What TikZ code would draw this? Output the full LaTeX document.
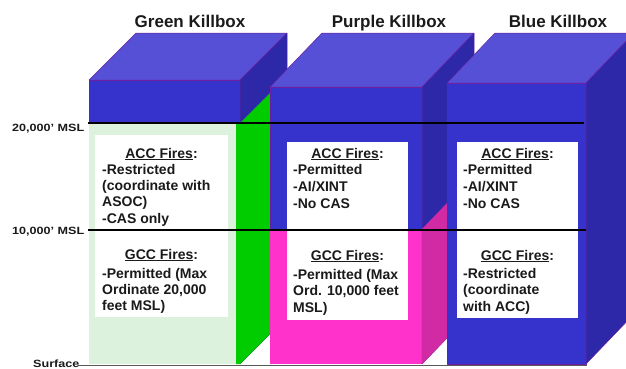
\documentclass[tikz,border=0pt]{standalone}
\usepackage{fontspec}
\setmainfont{Liberation Sans}
\usepackage{graphicx}
\definecolor{topc}{HTML}{5650D6}
\definecolor{frontc}{HTML}{3633CC}
\definecolor{sidec}{HTML}{2C28A8}
\definecolor{edgec}{HTML}{6A20A0}
\definecolor{grn}{HTML}{00CC00}
\definecolor{lgrn}{HTML}{DDF2DD}
\definecolor{mag}{HTML}{FF33CC}
\definecolor{dmag}{HTML}{D22AA5}
\definecolor{txt}{HTML}{1A1A1A}
\tikzset{
  face/.style={draw=edgec, line width=0.5pt, line join=round},
  whitebox/.style={fill=white, draw=none},
  head/.style={inner sep=0pt, anchor=base, font=\fontsize{14}{16.5}\selectfont\bfseries, text=txt},
  body/.style={inner sep=0pt, anchor=base west, font=\fontsize{14}{16.5}\selectfont\bfseries, text=txt},
  titletext/.style={inner sep=0pt, anchor=base, font=\fontsize{17}{20}\selectfont\bfseries, text=txt},
  alttext/.style={inner sep=0pt, anchor=base west, font=\fontsize{10.5}{12}\selectfont\bfseries, text=txt},
  altline/.style={line width=2.6pt, black},
  surfline/.style={line width=1pt, black!65},
}
\newcommand{\Head}[1]{\underline{#1}:}
\newcommand{\apos}{\char"0027\relax}
\begin{document}
\begin{tikzpicture}[x=1pt,y=-1pt]
\useasboundingbox (0,0) rectangle (626,368);
% ---------------- Green box
\fill[face, fill=topc] (89,80) -- (136,33) -- (287,33) -- (240,80) -- cycle;
\fill[face, fill=frontc] (89,80) rectangle (240,123);
\fill[face, fill=sidec] (240,80) -- (287,33) -- (287,317) -- (240,364) -- cycle;
\fill[fill=grn] (236,123) -- (240,123) -- (287,76) -- (287,317) -- (240,364) -- (236,364) -- cycle;
\fill[fill=lgrn] (89,123) rectangle (236,364);
\fill[whitebox] (95,135) rectangle (228,317);
% ---------------- Purple box
\fill[face, fill=topc] (270,87) -- (322,33) -- (474,33) -- (422,87) -- cycle;
\fill[face, fill=frontc] (270,87) rectangle (422,229);
\fill[fill=mag] (270,229) rectangle (422,364);
\fill[face, fill=sidec] (422,87) -- (474,33) -- (474,310) -- (422,364) -- cycle;
\fill[fill=dmag] (422,229) -- (474,175) -- (474,310) -- (422,364) -- cycle;
\fill[whitebox] (287,142) rectangle (408,320);
% ---------------- Blue box
\fill[face, fill=topc] (447,83) -- (495,33) -- (634,33) -- (586,83) -- cycle;
\fill[face, fill=frontc] (447,83) rectangle (586,364);
\fill[face, fill=sidec] (586,83) -- (634,33) -- (634,314) -- (586,364) -- cycle;
\fill[whitebox] (457,142) rectangle (578,318);
% ---------------- altitude lines
\coordinate (a20l) at (88,123);  \coordinate (a20r) at (584,123);
\coordinate (a10l) at (88,230);  \coordinate (a10r) at (586,230);
\coordinate (sfl) at (78,365);   \coordinate (sfr) at (587,365);
\draw[altline] (a20l) -- (a20r);
\draw[altline] (a10l) -- (a10r);
\draw[surfline] (sfl) -- (sfr);
% ---------------- titles
\node[titletext] (tg) at (190,27) {Green Killbox};
\node[titletext] (tp) at (389,27) {Purple Killbox};
\node[titletext] (tb) at (558,27) {Blue Killbox};
% ---------------- altitude labels
\node[alttext] (l20) at (12,131) {\scalebox{1.2}[1]{20,000\apos\ MSL}};
\node[alttext] (l10) at (12,234) {\scalebox{1.2}[1]{10,000\apos\ MSL}};
\node[alttext] (lsf) at (33,367) {\scalebox{1.2}[1]{Surface}};
% ---------------- green texts
\node[head] (gah) at (161.5,158) {\Head{ACC Fires}};
\node[body] (gab) at (102,174) {\vtop{\baselineskip=16.4pt
  \hbox{-Restricted}\hbox{(coordinate with}\hbox{ASOC)}\hbox{-CAS only}}};
\node[head] (ggh) at (161.5,259) {\Head{GCC Fires}};
\node[body] (ggb) at (102,278) {\vtop{\baselineskip=16.2pt
  \hbox{-Permitted (Max}\hbox{Ordinate 20,000}\hbox{feet MSL)}}};
% ---------------- purple texts
\node[head] (pah) at (347.5,158) {\Head{ACC Fires}};
\node[body] (pab) at (293,174) {\vtop{\baselineskip=17pt
  \hbox{-Permitted}\hbox{-AI/XINT}\hbox{-No CAS}}};
\node[head] (pgh) at (347.5,260) {\Head{GCC Fires}};
\node[body] (pgb) at (293,279) {\vtop{\baselineskip=16.5pt
  \hbox{-Permitted (Max}\hbox{Ord. 10,000 feet}\hbox{MSL)}}};
% ---------------- blue texts
\node[head] (bah) at (517.5,158) {\Head{ACC Fires}};
\node[body] (bab) at (463,174) {\vtop{\baselineskip=17pt
  \hbox{-Permitted}\hbox{-AI/XINT}\hbox{-No CAS}}};
\node[head] (bgh) at (517.5,260) {\Head{GCC Fires}};
\node[body] (bgb) at (463,278) {\vtop{\baselineskip=16.5pt
  \hbox{-Restricted}\hbox{(coordinate}\hbox{with ACC)}}};
\end{tikzpicture}
\end{document}
